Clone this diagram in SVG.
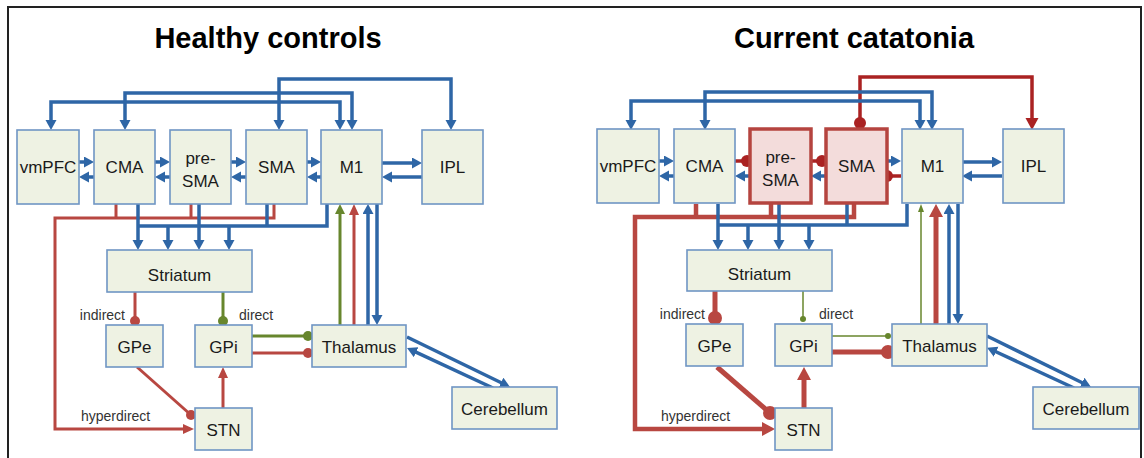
<svg xmlns="http://www.w3.org/2000/svg" width="1144" height="458" viewBox="0 0 1144 458">
<style>
.box{fill:#eef2e3;stroke:#6f95c4;stroke-width:1.6}
.pink{fill:#f3dcdb;stroke:#b5443f;stroke-width:3.5}
.lbl{font-family:"Liberation Sans",Arial,sans-serif;font-size:17px;fill:#1a1a1a;text-anchor:middle}
.sm{font-family:"Liberation Sans",Arial,sans-serif;font-size:14px;fill:#333}
.title{font-family:"Liberation Sans",Arial,sans-serif;font-size:29px;font-weight:bold;fill:#000;text-anchor:middle}
.b{fill:none;stroke:#2e66a6;stroke-width:3.5}
.r{fill:none;stroke:#b84741;stroke-width:3}
.g{fill:none;stroke:#67862d;stroke-width:3}
.rT{fill:none;stroke:#b84741;stroke-width:5}
.gT{fill:none;stroke:#67862d;stroke-width:1.5}
.dr{fill:none;stroke:#aa2222;stroke-width:3.5}
</style>
<defs>
<marker id="aB" markerUnits="userSpaceOnUse" markerWidth="12" markerHeight="12" refX="2" refY="5.5" orient="auto-start-reverse"><path d="M0,0 L10,5.5 L0,11 z" fill="#2e66a6"/></marker>
<marker id="aR" markerUnits="userSpaceOnUse" markerWidth="12" markerHeight="12" refX="3" refY="5" orient="auto"><path d="M0,0 L11,5 L0,10 z" fill="#b84741"/></marker>
<marker id="aG" markerUnits="userSpaceOnUse" markerWidth="12" markerHeight="12" refX="2" refY="5" orient="auto"><path d="M0,0 L10,5 L0,10 z" fill="#67862d"/></marker>
<marker id="aRT" markerUnits="userSpaceOnUse" markerWidth="16" markerHeight="16" refX="5" refY="7" orient="auto"><path d="M0,0 L13,7 L0,14 z" fill="#b84741"/></marker>
<marker id="aGt" markerUnits="userSpaceOnUse" markerWidth="10" markerHeight="10" refX="0" refY="3" orient="auto"><path d="M0,0 L8,3 L0,6 z" fill="#67862d"/></marker>
<marker id="aDR" markerUnits="userSpaceOnUse" markerWidth="16" markerHeight="16" refX="4" refY="6.5" orient="auto"><path d="M0,0 L12,6.5 L0,13 z" fill="#aa2222"/></marker>
<marker id="dR" markerUnits="userSpaceOnUse" markerWidth="12" markerHeight="12" refX="6" refY="6"><circle cx="6" cy="6" r="5" fill="#b84741"/></marker>
<marker id="dG" markerUnits="userSpaceOnUse" markerWidth="12" markerHeight="12" refX="6" refY="6"><circle cx="6" cy="6" r="5" fill="#67862d"/></marker>
<marker id="dRb" markerUnits="userSpaceOnUse" markerWidth="16" markerHeight="16" refX="8" refY="8"><circle cx="8" cy="8" r="7" fill="#b84741"/></marker>
<marker id="dGs" markerUnits="userSpaceOnUse" markerWidth="8" markerHeight="8" refX="4" refY="4"><circle cx="4" cy="4" r="3" fill="#67862d"/></marker>
<marker id="dDR" markerUnits="userSpaceOnUse" markerWidth="14" markerHeight="14" refX="7" refY="7"><circle cx="7" cy="7" r="6" fill="#aa2222"/></marker>
</defs>
<rect x="0" y="0" width="1144" height="458" fill="#fff"/>
<rect x="8" y="7" width="1133" height="470" fill="none" stroke="#222" stroke-width="2"/>
<text class="title" x="268" y="48">Healthy controls</text>
<text class="title" x="854" y="48">Current catatonia</text>

<!-- LEFT PANEL -->
<g id="left-connectors">
<path class="b" d="M279,122 V79 H451 V122" marker-start="url(#aB)" marker-end="url(#aB)"/>
<path class="b" d="M125,122 V93 H352 V122" marker-start="url(#aB)" marker-end="url(#aB)"/>
<path class="b" d="M51,122 V102 H340 V122" marker-start="url(#aB)" marker-end="url(#aB)"/>
<path class="b" d="M79,162 H86" marker-end="url(#aB)"/>
<path class="b" d="M94,177 H87" marker-end="url(#aB)"/>
<path class="b" d="M155,162 H162" marker-end="url(#aB)"/>
<path class="b" d="M170,177 H163" marker-end="url(#aB)"/>
<path class="b" d="M231,162 H238" marker-end="url(#aB)"/>
<path class="b" d="M246,177 H239" marker-end="url(#aB)"/>
<path class="b" d="M307,162 H313" marker-end="url(#aB)"/>
<path class="b" d="M321,177 H315" marker-end="url(#aB)"/>
<path class="b" d="M382,163 H414" marker-end="url(#aB)"/>
<path class="b" d="M422,177 H390" marker-end="url(#aB)"/>
<path class="r" d="M116,204 V218"/>
<path class="r" d="M191,204 V218"/>
<path class="r" d="M274,204 V218 H55 V429 H186" marker-end="url(#aR)"/>
<path class="b" d="M138,204 V242" marker-end="url(#aB)"/>
<path class="b" d="M199,204 V242" marker-end="url(#aB)"/>
<path class="b" d="M168,226 V242" marker-end="url(#aB)"/>
<path class="b" d="M229,226 V242" marker-end="url(#aB)"/>
<path class="b" d="M267,204 V226"/>
<path class="b" d="M327,204 V226 H138"/>
<path class="r" d="M135,292 V321" marker-end="url(#dR)"/>
<path class="g" d="M223,292 V321" marker-end="url(#dG)"/>
<path class="r" d="M137,367 L191,415" marker-end="url(#dR)"/>
<path class="r" d="M223,408 V375" marker-end="url(#aR)"/>
<path class="g" d="M252,336 H308" marker-end="url(#dG)"/>
<path class="r" d="M252,353 H308" marker-end="url(#dR)"/>
<path class="g" d="M340,325 V212" marker-end="url(#aG)"/>
<path class="r" d="M354,325 V212" marker-end="url(#aR)"/>
<path class="b" d="M368,325 V212" marker-end="url(#aB)"/>
<path class="b" d="M377,204 V317" marker-end="url(#aB)"/>
<path class="b" d="M407,337 L502.8,383.5" marker-end="url(#aB)"/>
<path class="b" d="M493,388 L414.3,351.4" marker-end="url(#aB)"/>
</g>
<g id="L-vmPFC"><rect class="box" x="17" y="130" width="62" height="74"/><text class="lbl" x="48" y="173">vmPFC</text></g>
<g id="L-CMA"><rect class="box" x="94" y="130" width="61" height="74"/><text class="lbl" x="124.5" y="173">CMA</text></g>
<g id="L-preSMA"><rect class="box" x="170" y="130" width="61" height="74"/><text class="lbl" x="200.5" y="164">pre-</text><text class="lbl" x="200.5" y="187">SMA</text></g>
<g id="L-SMA"><rect class="box" x="246" y="130" width="61" height="74"/><text class="lbl" x="276.5" y="173">SMA</text></g>
<g id="L-M1"><rect class="box" x="321" y="130" width="61" height="74"/><text class="lbl" x="351.5" y="173">M1</text></g>
<g id="L-IPL"><rect class="box" x="422" y="130" width="61" height="74"/><text class="lbl" x="452.5" y="173">IPL</text></g>
<g id="L-Striatum"><rect class="box" x="107" y="250" width="145" height="42"/><text class="lbl" x="179.5" y="281">Striatum</text></g>
<g id="L-GPe"><rect class="box" x="106" y="325" width="57" height="42"/><text class="lbl" x="134.5" y="353">GPe</text></g>
<g id="L-GPi"><rect class="box" x="195" y="325" width="57" height="42"/><text class="lbl" x="223.5" y="353">GPi</text></g>
<g id="L-STN"><rect class="box" x="195" y="408" width="57" height="42"/><text class="lbl" x="223.5" y="436">STN</text></g>
<g id="L-Thalamus"><rect class="box" x="312" y="325" width="94" height="42"/><text class="lbl" x="359" y="353">Thalamus</text></g>
<g id="L-Cerebellum"><rect class="box" x="452" y="387" width="105" height="42"/><text class="lbl" x="504.5" y="415">Cerebellum</text></g>
<g id="L-labels">
<text class="sm" x="125" y="320" text-anchor="end">indirect</text>
<text class="sm" x="239" y="320">direct</text>
<text class="sm" x="81" y="421">hyperdirect</text>
</g>

<!-- RIGHT PANEL -->
<g transform="translate(580,0)">
<g id="right-connectors">
<path class="dr" d="M280,123 V77 H452 V122" marker-start="url(#dDR)" marker-end="url(#aDR)"/>
<path class="b" d="M125,122 V92 H352 V122" marker-start="url(#aB)" marker-end="url(#aB)"/>
<path class="b" d="M51,122 V101 H340 V122" marker-start="url(#aB)" marker-end="url(#aB)"/>
<path class="b" d="M79,161 H86" marker-end="url(#aB)"/>
<path class="b" d="M94,176 H87" marker-end="url(#aB)"/>
<path class="dr" d="M155,161 H167" marker-end="url(#dDR)"/>
<path class="b" d="M170,176 H163" marker-end="url(#aB)"/>
<path class="dr" d="M231,161 H242" marker-end="url(#dDR)"/>
<path class="b" d="M246,176 H239" marker-end="url(#aB)"/>
<path class="b" d="M307,161 H313" marker-end="url(#aB)"/>
<path class="dr" d="M321,176 H307" marker-end="url(#dDR)"/>
<path class="b" d="M382,162 H414" marker-end="url(#aB)"/>
<path class="b" d="M422,176 H390" marker-end="url(#aB)"/>
<path class="r" style="stroke-width:4.5" d="M116,204 V217"/>
<path class="r" style="stroke-width:4.5" d="M191,204 V217"/>
<path class="r" style="stroke-width:4.5" d="M274,204 V217 H55 V429 H187" marker-end="url(#aRT)"/>
<path class="b" d="M138,204 V242" marker-end="url(#aB)"/>
<path class="b" d="M199,204 V242" marker-end="url(#aB)"/>
<path class="b" d="M168,225 V242" marker-end="url(#aB)"/>
<path class="b" d="M229,225 V242" marker-end="url(#aB)"/>
<path class="b" d="M267,204 V225"/>
<path class="b" d="M327,204 V225 H138"/>
<path class="rT" d="M135,291 V318" marker-end="url(#dRb)"/>
<path class="gT" d="M223,291 V319" marker-end="url(#dGs)"/>
<path class="rT" d="M137,367 L190,413" marker-end="url(#dRb)"/>
<path class="rT" d="M224,408 V375" marker-end="url(#aRT)"/>
<path class="gT" d="M252,336 H308" marker-end="url(#dGs)"/>
<path class="rT" d="M252,352 H308" marker-end="url(#dRb)"/>
<path class="gT" d="M341,324 V212" marker-end="url(#aGt)"/>
<path class="rT" d="M356,324 V212" marker-end="url(#aRT)"/>
<path class="b" d="M369,324 V212" marker-end="url(#aB)"/>
<path class="b" d="M378,204 V316" marker-end="url(#aB)"/>
<path class="b" d="M407,336 L503.8,383.5" marker-end="url(#aB)"/>
<path class="b" d="M494,388 L414.3,351" marker-end="url(#aB)"/>
</g>
<g id="R-vmPFC"><rect class="box" x="17" y="129" width="62" height="74"/><text class="lbl" x="48" y="172">vmPFC</text></g>
<g id="R-CMA"><rect class="box" x="94" y="129" width="61" height="74"/><text class="lbl" x="124.5" y="172">CMA</text></g>
<g id="R-preSMA"><rect class="pink" x="170" y="129" width="61" height="74"/><text class="lbl" x="200.5" y="163">pre-</text><text class="lbl" x="200.5" y="186">SMA</text></g>
<g id="R-SMA"><rect class="pink" x="246" y="129" width="61" height="74"/><text class="lbl" x="276.5" y="172">SMA</text></g>
<g id="R-M1"><rect class="box" x="322" y="129" width="61" height="74"/><text class="lbl" x="352.5" y="172">M1</text></g>
<g id="R-IPL"><rect class="box" x="423" y="129" width="61" height="74"/><text class="lbl" x="453.5" y="172">IPL</text></g>
<g id="R-Striatum"><rect class="box" x="107" y="250" width="145" height="41"/><text class="lbl" x="179.5" y="280">Striatum</text></g>
<g id="R-GPe"><rect class="box" x="106" y="324" width="57" height="42"/><text class="lbl" x="134.5" y="352">GPe</text></g>
<g id="R-GPi"><rect class="box" x="195" y="324" width="57" height="42"/><text class="lbl" x="223.5" y="352">GPi</text></g>
<g id="R-STN"><rect class="box" x="195" y="408" width="57" height="42"/><text class="lbl" x="223.5" y="436">STN</text></g>
<g id="R-Thalamus"><rect class="box" x="312" y="324" width="95" height="42"/><text class="lbl" x="359.5" y="352">Thalamus</text></g>
<g id="R-Cerebellum"><rect class="box" x="453" y="387" width="106" height="42"/><text class="lbl" x="506" y="415">Cerebellum</text></g>
<g id="R-labels">
<text class="sm" x="125" y="319" text-anchor="end">indirect</text>
<text class="sm" x="239" y="319">direct</text>
<text class="sm" x="81" y="421">hyperdirect</text>
</g>
</g>
</svg>
